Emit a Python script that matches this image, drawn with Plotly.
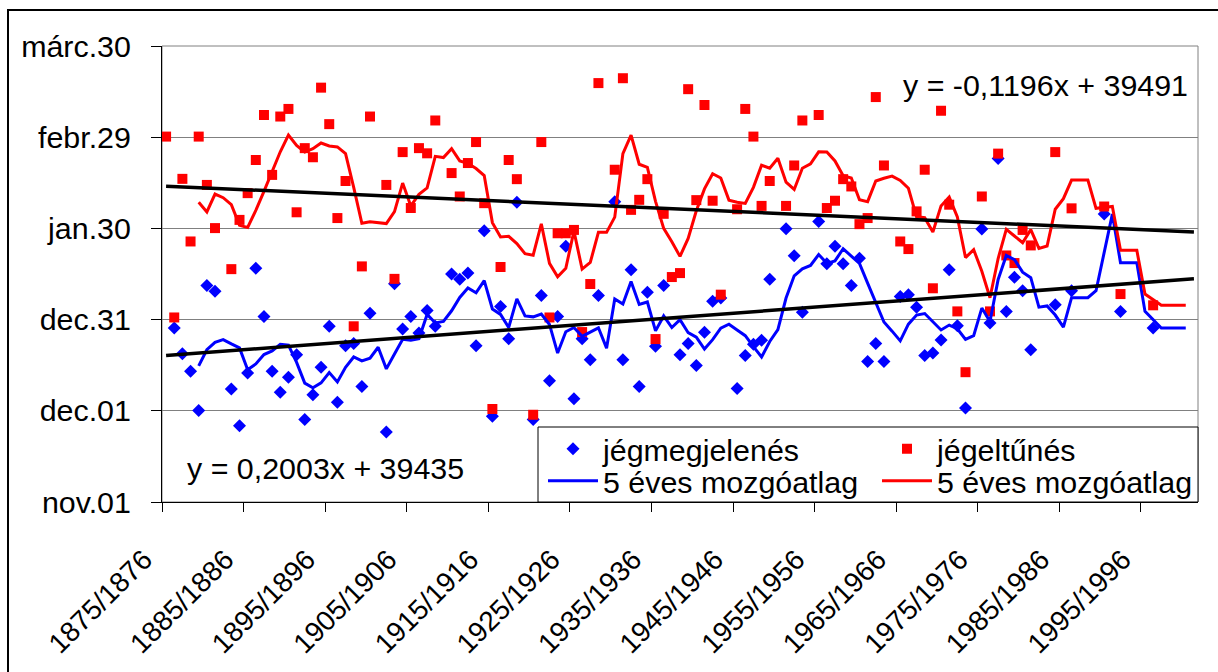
import plotly.graph_objects as go

# ---------------- data (days after Nov 1; Excel date 39387 = nov.01) ----------------
tick_labels = ["1875/1876", "1885/1886", "1895/1896", "1905/1906", "1915/1916",
               "1925/1926", "1935/1936", "1945/1946", "1955/1956", "1965/1966",
               "1975/1976", "1985/1986", "1995/1996"]

y_tick_days = [0, 30, 60, 90, 120, 150]
y_tick_labels = ["nov.01", "dec.01", "dec.31", "jan.30", "febr.29", "márc.30"]

# ice appearance (jégmegjelenés), index = winter number from 1875/1876
ice_on = [None, 57.2, 48.8, 43.0, 30.1, 71.2, 69.3, None, 37.2, 25.1,
          42.4, 76.9, 61.0, 43.0, 36.1, 41.0, 48.4, 27.1, 35.3, 44.3,
          57.8, 32.8, 51.4, 52.1, 38.0, 62.1, None, 23.0, 71.8, 56.9,
          61.0, 55.6, 63.0, 57.8, None, 75.0, 73.3, 75.3, 51.4, 89.2,
          28.2, 64.3, 53.7, 98.6, None, 27.1, 67.9, 39.9, 61.0, 84.1,
          34.0, 53.7, 46.8, 67.9, None, 98.8, 46.8, 76.4, 38.0, 69.0,
          51.2, 71.2, None, 48.4, 52.1, 44.9, 55.8, 66.0, 67.1, None,
          37.3, 48.2, 51.9, 53.2, 73.3, None, 89.9, 81.0, 62.4, None,
          92.3, 78.4, 84.1, 78.4, 71.2, 80.2, 46.2, 52.1, 46.2, None,
          67.6, 68.2, 64.1, 48.2, 49.0, 53.3, 76.4, 58.0, 30.9, None,
          89.8, 58.9, 113.0, 62.7, 73.9, 69.5, 50.1, None, None, 64.9,
          None, 69.5, None, None, None, 94.7, None, 62.7, None, None,
          None, 57.2]

# ice disappearance (jégeltűnés)
ice_off = [120.2, 60.7, 106.3, 85.7, 120.2, 104.3, 90.1, None, 76.6, 92.8,
           101.6, 112.5, 127.3, 107.6, 126.8, 129.3, 95.3, 116.4, 113.4, 136.3,
           124.3, 93.4, 105.6, 57.8, 77.5, 126.8, None, 104.3, 73.4, 115.1,
           96.7, 116.4, 114.7, 125.5, None, 108.2, 100.5, 111.5, 118.4, 98.3,
           30.6, 77.3, 112.5, 106.2, None, 28.7, 118.4, 60.7, 88.4, 88.4,
           89.5, 55.9, 71.7, 137.8, None, 109.3, 139.4, 96.1, 99.4, 106.2,
           53.6, 94.8, 74.0, 75.3, 135.8, 99.3, 130.6, 99.1, 68.2, None,
           96.3, 129.3, 120.2, 97.4, 105.6, None, 97.4, 110.7, 125.5, None,
           127.3, 96.7, 99.1, 106.2, 103.8, 91.4, 93.4, 133.2, 110.7, None,
           85.7, 83.2, 95.6, 109.3, 70.3, 128.7, 97.8, 62.7, 42.7, None,
           100.5, 62.7, 114.6, 81.1, 78.6, 89.5, 84.4, None, None, 115.1,
           None, 96.6, None, None, None, 97.2, None, 68.4, None, None,
           None, 64.7]

# 5-year moving averages as plotted (blue = appearance, red = disappearance)
ma_on = [None, None, None, None, 44.8, 50.1, 52.5, 53.4, 52.0, 50.7,
         43.5, 45.4, 48.5, 49.7, 51.9, 51.6, 45.9, 39.1, 37.6, 39.2,
         42.6, 39.5, 44.3, 47.7, 46.4, 47.3, 50.9, 43.8, 48.7, 53.5,
         53.2, 53.7, 61.7, 58.9, 59.4, 62.9, 67.3, 70.4, 68.8, 72.8,
         63.5, 61.7, 57.4, 66.8, 61.2, 60.9, 61.8, 58.4, 49.0, 56.0,
         57.4, 54.5, 55.9, 57.3, 50.6, 66.8, 65.1, 72.5, 65.0, 65.8,
         56.3, 61.2, 57.4, 60.0, 55.7, 54.2, 50.3, 53.4, 57.2, 58.5,
         56.6, 54.7, 51.1, 47.7, 52.8, 56.7, 67.1, 74.4, 76.7, 77.8,
         81.4, 78.5, 79.3, 83.3, 80.9, 78.5, 72.0, 65.6, 59.2, 56.2,
         53.0, 58.5, 61.5, 62.0, 59.4, 56.6, 58.2, 57.0, 53.5, 54.7,
         63.8, 59.4, 73.2, 81.1, 79.7, 75.6, 73.8, 64.1, 64.5, 61.5,
         57.5, 67.2, 67.2, 67.2, 69.5, 82.1, 94.7, 78.7, 78.7, 78.7,
         62.7, 60.0, 57.2, 57.2, 57.2, 57.2]

ma_off = [None, None, None, None, 98.6, 95.4, 101.3, 100.1, 97.8, 91.0,
          90.3, 95.9, 102.2, 108.4, 115.2, 120.7, 117.3, 115.1, 116.2, 118.1,
          117.1, 116.8, 114.6, 103.5, 91.7, 92.2, 91.9, 91.6, 95.5, 104.9,
          97.4, 101.2, 103.3, 113.7, 113.3, 116.2, 112.2, 111.4, 109.7, 107.4,
          91.9, 87.2, 87.4, 85.0, 81.7, 81.2, 91.5, 78.5, 74.1, 76.9,
          89.1, 76.6, 78.8, 88.7, 88.7, 93.7, 114.6, 120.7, 111.1, 110.1,
          98.9, 90.0, 85.6, 80.8, 86.7, 95.8, 103.0, 108.0, 106.6, 99.3,
          98.6, 98.2, 103.5, 110.8, 109.8, 113.1, 105.2, 102.8, 109.8, 111.2,
          115.2, 115.1, 112.2, 107.3, 106.6, 99.4, 98.8, 105.6, 106.5, 107.2,
          105.8, 103.2, 93.8, 93.5, 88.8, 97.4, 100.3, 93.8, 80.4, 83.0,
          75.9, 67.2, 80.1, 89.7, 87.5, 85.3, 89.6, 83.4, 84.2, 96.3,
          99.8, 105.9, 105.9, 105.9, 96.6, 96.9, 97.2, 82.8, 82.8, 82.8,
          68.4, 66.6, 64.7, 64.7, 64.7, 64.7]

# linear trendlines (end points at first and last winter)
trend_x = [0, 126]
trend_on = [48.2, 73.4]    # y = 0,2003x + 39435
trend_off = [103.9, 88.8]  # y = -0,1196x + 39491

eq_on = "y = 0,2003x + 39435"
eq_off = "y = -0,1196x + 39491"

# ---------------- figure ----------------
W, H = 1218, 672
ML, MR, MT, MB = 162, 20, 46, 170
PW, PH = W - ML - MR, H - MT - MB


def px(x):
    return (x - ML) / PW


def py(y):
    return (H - MB - y) / PH


FONT = "Liberation Sans, Arial, sans-serif"
FS = 30.4
FS_X = 28
BLUE = "#0000FF"
RED = "#FF0000"

x_on = list(range(len(ice_on)))
x_off = list(range(len(ice_off)))
x_ma_on = list(range(len(ma_on)))
x_ma_off = list(range(len(ma_off)))

fig = go.Figure()
fig.add_trace(go.Scatter(x=x_on, y=ice_on, mode="markers", name="jégmegjelenés",
                         marker=dict(symbol="diamond", size=10, color=BLUE),
                         legend="legend"))
fig.add_trace(go.Scatter(x=x_off, y=ice_off, mode="markers", name="jégeltűnés",
                         marker=dict(symbol="square", size=10, color=RED),
                         legend="legend2"))
fig.add_trace(go.Scatter(x=x_ma_on, y=ma_on, mode="lines", name="5 éves mozgóatlag",
                         line=dict(color=BLUE, width=3), connectgaps=False,
                         legend="legend3"))
fig.add_trace(go.Scatter(x=x_ma_off, y=ma_off, mode="lines", name="5 éves mozgóatlag",
                         line=dict(color=RED, width=3), connectgaps=False,
                         legend="legend4"))
fig.add_trace(go.Scatter(x=trend_x, y=trend_on, mode="lines", showlegend=False,
                         line=dict(color="black", width=3.5)))
fig.add_trace(go.Scatter(x=trend_x, y=trend_off, mode="lines", showlegend=False,
                         line=dict(color="black", width=3.5)))

leg_common = dict(font=dict(family=FONT, size=FS, color="black"), bgcolor="rgba(0,0,0,0)",
                  borderwidth=0, itemwidth=50, xanchor="left", yanchor="middle",
                  orientation="h")
col1, col2 = px(543), px(877)
row1, row2 = py(449), py(481)

fig.update_layout(
    width=W, height=H,
    margin=dict(l=ML, r=MR, t=MT, b=MB, autoexpand=False),
    paper_bgcolor="white", plot_bgcolor="white",
    font=dict(family=FONT, size=FS, color="black"),
    showlegend=True,
    legend=dict(x=col1, y=row1, **leg_common),
    legend2=dict(x=col2, y=row1, **leg_common),
    legend3=dict(x=col1, y=row2, **leg_common),
    legend4=dict(x=col2, y=row2, **leg_common),
    xaxis=dict(range=[-0.5, 126.5], tickmode="array",
               tickvals=[-0.5 + 10 * k for k in range(len(tick_labels))],
               ticktext=tick_labels, tickangle=-45, automargin=False,
               ticks="outside", ticklen=9, tickcolor="black", tickwidth=1,
               showline=True, linecolor="black", linewidth=1,
               showgrid=False, zeroline=False,
               ticklabelstandoff=20, ticklabelshift=-18,
               tickfont=dict(family=FONT, size=FS_X, color="black")),
    yaxis=dict(range=[0, 150], tickmode="array", tickvals=y_tick_days,
               ticktext=y_tick_labels, ticks="outside", ticklen=10, automargin=False,
               tickcolor="black", tickwidth=1, showline=True, linecolor="black",
               linewidth=1, showgrid=True, gridcolor="#808080", gridwidth=1,
               zeroline=False, ticklabelstandoff=14,
               tickfont=dict(family=FONT, size=FS, color="black")),
    shapes=[
        # plot-area border (top/right)
        dict(type="rect", xref="paper", yref="paper", x0=0, x1=1, y0=0, y1=1,
             line=dict(color="#808080", width=1), layer="below"),
        # legend frame
        dict(type="rect", xref="paper", yref="paper", x0=px(538), x1=1, y0=0, y1=py(427),
             line=dict(color="black", width=1), fillcolor="white", layer="below"),
        # outer chart frame
        dict(type="rect", xref="paper", yref="paper", x0=px(8), x1=px(1240),
             y0=py(700), y1=py(10), line=dict(color="black", width=2), layer="below"),
    ],
    annotations=[
        dict(text=eq_on, xref="paper", yref="paper", x=px(185), y=py(468),
             xanchor="left", yanchor="middle", showarrow=False,
             font=dict(family=FONT, size=FS, color="black")),
        dict(text=eq_off, xref="paper", yref="paper", x=px(901), y=py(85),
             xanchor="left", yanchor="middle", showarrow=False,
             font=dict(family=FONT, size=FS, color="black")),
    ],
)

fig.write_html("out.html")
